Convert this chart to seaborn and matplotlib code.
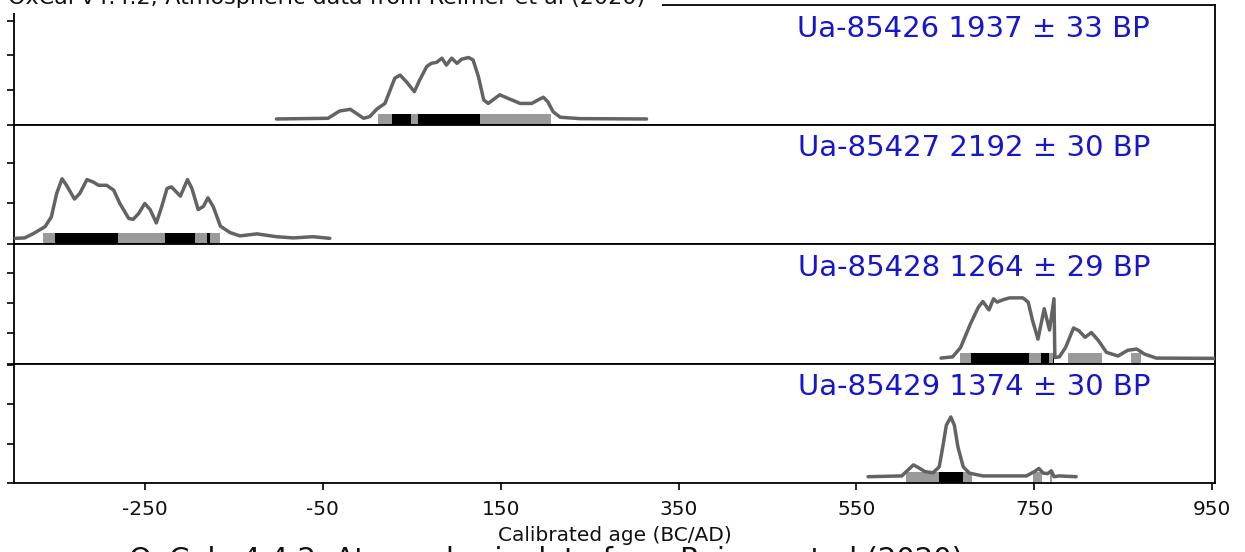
import matplotlib
matplotlib.use("Agg")
import matplotlib.pyplot as plt
from matplotlib.patches import Rectangle
import seaborn as sns
import pandas as pd

# ---------------- data ----------------
labels = ["Ua-85426 1937 \u00b1 33 BP", "Ua-85427 2192 \u00b1 30 BP",
          "Ua-85428 1264 \u00b1 29 BP", "Ua-85429 1374 \u00b1 30 BP"]

x1 = [-102, -44, -31, -19, -4, 3, 11, 20, 31, 37, 44, 53, 59, 67, 72, 78, 84, 89, 95, 101,
      106, 114, 119, 125, 131, 136, 149, 158, 172, 185, 192, 198, 203, 209, 217, 239, 314]
y1 = [0.16, 0.18, 0.39, 0.44, 0.18, 0.23, 0.45, 0.61, 1.34, 1.43, 1.24, 0.95, 1.29, 1.68, 1.77,
      1.80, 1.92, 1.72, 1.92, 1.77, 1.89, 1.94, 1.87, 1.39, 0.71, 0.61, 0.86, 0.76, 0.61, 0.61,
      0.71, 0.79, 0.66, 0.37, 0.21, 0.17, 0.16]
grey1 = [(12, 207)]
black1 = [(28, 49), (57, 127)]

x2 = [-396, -385, -375, -362, -355, -349, -343, -338, -329, -323, -315, -308, -302, -293, -285,
      -278, -268, -263, -257, -250, -244, -237, -231, -225, -220, -210, -202, -197, -190, -184,
      -179, -173, -165, -154, -143, -124, -102, -83, -61, -42]
y2 = [0.14, 0.15, 0.26, 0.43, 0.67, 1.25, 1.61, 1.45, 1.11, 1.25, 1.59, 1.53, 1.45, 1.45, 1.33,
      1.00, 0.63, 0.61, 0.75, 1.00, 0.85, 0.52, 0.92, 1.37, 1.41, 1.18, 1.59, 1.37, 0.85, 0.93,
      1.14, 0.92, 0.44, 0.28, 0.20, 0.25, 0.18, 0.15, 0.18, 0.14]
grey2 = [(-364, -166)]
black2 = [(-351, -280), (-227, -194), (-180, -177)]

x3 = [645, 658, 667, 678, 687, 692, 699, 704, 708, 715, 722, 737, 743, 748, 754, 761, 767, 772,
      773, 778, 785, 794, 800, 807, 814, 822, 831, 844, 855, 865, 874, 887, 953]
y3 = [0.18, 0.22, 0.53, 1.31, 1.87, 2.06, 1.78, 2.15, 2.04, 2.12, 2.18, 2.18, 2.04, 1.42, 0.81,
      1.82, 1.11, 2.15, 0.20, 0.22, 0.53, 1.18, 1.09, 0.87, 1.03, 0.76, 0.37, 0.25, 0.44, 0.48,
      0.31, 0.18, 0.17]
grey3 = [(666, 772), (788, 826), (859, 870)]
black3 = [(679, 744), (757, 766), (771, 772.5)]

x4 = [563, 601, 606, 614, 619, 627, 636, 643, 647, 651, 656, 660, 664, 670, 677, 692, 741, 750,
      755, 760, 765, 769, 772, 778, 797]
y4 = [0.16, 0.18, 0.29, 0.46, 0.40, 0.29, 0.26, 0.41, 0.92, 1.47, 1.68, 1.47, 0.92, 0.41, 0.25,
      0.18, 0.18, 0.29, 0.37, 0.25, 0.24, 0.31, 0.16, 0.18, 0.16]
grey4 = [(606, 680), (748, 758), (768, 770)]
black4 = [(643, 670)]

x_ticks = [-250, -50, 150, 350, 550, 750, 950]
top_note = "OxCal v4.4.2; Atmospheric data from Reimer et al (2020)"
bottom_note = "OxCal v4.4.2; Atmospheric data from Reimer et al (2020)"
x_label = "Calibrated age (BC/AD)"

panels = [(x1, y1, grey1, black1), (x2, y2, grey2, black2),
          (x3, y3, grey3, black3), (x4, y4, grey4, black4)]
ylims = [3.46, 2.95, 3.97, 3.04]
yticks = [[0, 1, 2, 3], [0, 1, 2], [0, 1, 2, 3], [0, 1, 2, 3]]

# ---------------- style ----------------
sns.set_theme(style="white")
plt.rcParams["font.family"] = ["DejaVu Sans"]

W, H = 1245, 552
fig, axes = plt.subplots(4, 1, sharex=True, figsize=(W / 100, H / 100), dpi=100)
fig.subplots_adjust(left=14 / W, right=1215 / W, top=1 - 5 / H, bottom=1 - 483 / H, hspace=0)

curve_color = "#636363"
grey_color = "#9a9a9a"
blue = "#1616cc"

for i, (ax, (xs, ys, greys, blacks)) in enumerate(zip(axes, panels)):
    df = pd.DataFrame({"age": xs, "prob": ys})
    trans = ax.get_xaxis_transform()
    ax.broken_barh([(a, b - a) for a, b in greys], (0, 11 / 119.5),
                   facecolors=grey_color, edgecolor="none", transform=trans, zorder=2)
    ax.broken_barh([(a, b - a) for a, b in blacks], (0, 11 / 119.5),
                   facecolors="black", edgecolor="none", transform=trans, zorder=3)
    sns.lineplot(data=df, x="age", y="prob", ax=ax, color=curve_color, linewidth=2.5,
                 sort=False, estimator=None, zorder=4,
                 solid_joinstyle="round", solid_capstyle="round")
    ax.set_ylim(0, ylims[i])
    ax.set_yticks(yticks[i])
    ax.set_yticklabels([])
    ax.set_ylabel("")
    ax.set_xlabel("")
    for s in ax.spines.values():
        s.set_visible(True)
        s.set_color("black")
        s.set_linewidth(1.3)
    ax.tick_params(axis="y", direction="out", length=5, width=1.2, color="black", left=True)
    ax.tick_params(axis="x", direction="out", length=5, width=1.2, color="black", bottom=(i == 3))
    ax.text(0.946, 1 - 31.7 / 119.5, labels[i], transform=ax.transAxes, ha="right",
            va="baseline", fontsize=21, color=blue, zorder=6,
            bbox=dict(facecolor="white", edgecolor="none", pad=1))

ax = axes[-1]
ax.set_xlim(-397, 953)
ax.set_xticks(x_ticks)
ax.set_xticklabels([str(t) for t in x_ticks], fontsize=14.5, color="#111111")
ax.tick_params(axis="x", pad=7)
ax.set_xlabel(x_label, fontsize=14.5, color="#111111", labelpad=5)

# header partly outside the canvas, over a white band hiding the frame corner
fig.add_artist(Rectangle((0, 1 - 13 / H), 662 / W, 13 / H, transform=fig.transFigure,
                         facecolor="white", edgecolor="none", zorder=8))
fig.text(8 / W, 1 - 4 / H, top_note, ha="left", va="baseline", fontsize=16,
         color="#111111", zorder=9)
fig.text(546 / W, 1 - 568 / H, bottom_note, ha="center", va="baseline", fontsize=21,
         color="#111111", zorder=9)

fig.savefig("out.png", dpi=100, facecolor="white")
